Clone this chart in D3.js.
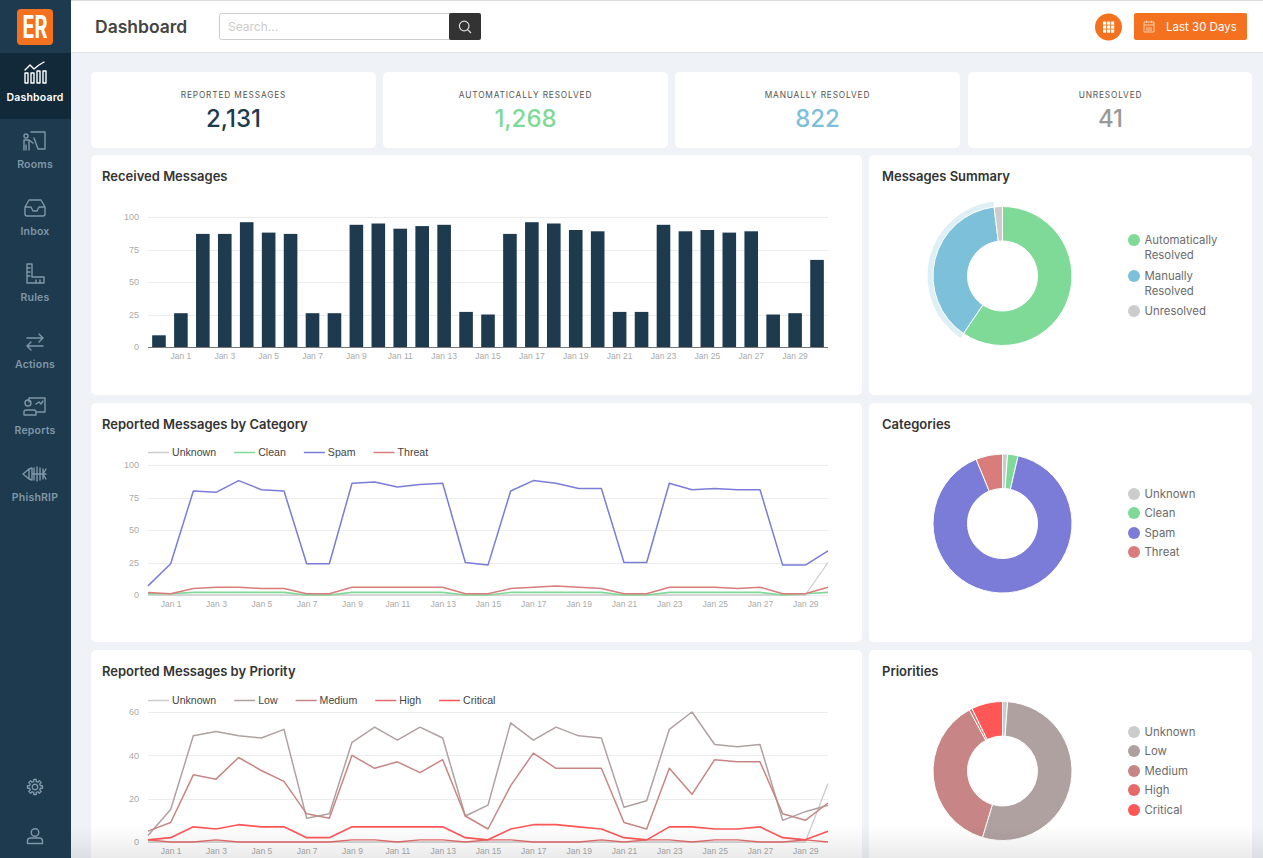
<!DOCTYPE html>
<html>
<head>
<meta charset="utf-8">
<title>Dashboard</title>
<script src="https://cdn.jsdelivr.net/npm/d3@7"></script>
<style>
  html, body { margin: 0; padding: 0; background: #eff2f7; overflow: hidden; }
  svg { display: block; font-family: Inter, sans-serif; }
  .axis text { font-family: "Liberation Sans", Arial, sans-serif; fill: #aaa; }
  .axis path, .axis line { display: none; }
  .grid { stroke: #ececec; stroke-width: 1; }
  .legend-text { font-family: "Liberation Sans", Arial, sans-serif; font-size: 10.6px; fill: #444; }
  .pie-legend { font-size: 11.4px; fill: #6b6b6b; }
  .card-title { font-size: 13px; font-weight: 600; fill: #333; }
  .nav-label { font-size: 10.5px; font-weight: 600; text-anchor: middle; fill: #7f97a8; letter-spacing: .2px; }
  .icon { fill: none; stroke: #7f97a8; stroke-width: 1.4; stroke-linejoin: round; stroke-linecap: round; }
</style>
</head>
<body>
<svg id="page" width="1263" height="858"></svg>
<script>
// days on the x axis (31 of them, Dec 31 to Jan 30)
var days = ["Dec 31","Jan 1","Jan 2","Jan 3","Jan 4","Jan 5","Jan 6","Jan 7","Jan 8","Jan 9","Jan 10","Jan 11","Jan 12","Jan 13","Jan 14","Jan 15","Jan 16","Jan 17","Jan 18","Jan 19","Jan 20","Jan 21","Jan 22","Jan 23","Jan 24","Jan 25","Jan 26","Jan 27","Jan 28","Jan 29","Jan 30"];
var dayTicks = ["Jan 1","Jan 3","Jan 5","Jan 7","Jan 9","Jan 11","Jan 13","Jan 15","Jan 17","Jan 19","Jan 21","Jan 23","Jan 25","Jan 27","Jan 29"];

var received = [9,26,87,87,96,88,87,26,26,94,95,91,93,94,27,25,87,96,95,90,89,27,27,94,89,90,88,89,25,26,67];

var catUnknown = [0,0,0,0,0,0,0,0,0,0,0,0,0,0,0,0,0,0,0,0,0,0,0,0,0,0,0,0,0,0,25];
var catClean = [1,1,2,2,2,2,2,0,0,2,2,2,2,2,0,0,2,2,2,2,2,0,0,2,2,2,2,2,0,1,2];
var catSpam = [7,24,80,79,88,81,80,24,24,86,87,83,85,86,25,23,80,88,86,82,82,25,25,86,81,82,81,81,23,23,34];
var catThreat = [2,1,5,6,6,5,5,1,1,6,6,6,6,6,1,1,5,6,7,6,5,1,1,6,6,6,5,6,1,1,6];

var priUnknown = [0,0,0,0,0,0,0,0,0,0,0,0,0,0,0,0,0,0,0,0,0,0,0,0,0,0,0,0,0,0,27];
var priLow = [3,15,49,51,49,48,52,11,13,46,53,47,53,48,12,17,55,47,53,49,48,16,19,52,60,45,44,45,10,14,17];
var priMedium = [5,9,31,29,39,33,28,13,11,40,34,37,32,38,12,6,26,41,34,34,34,9,6,34,22,38,37,37,13,10,18];
var priHigh = [1,0,0,1,0,0,0,0,0,1,1,0,1,1,0,1,1,0,0,0,1,0,1,1,0,1,1,0,0,1,0];
var priCritical = [1,2,7,6,8,7,7,2,2,7,7,7,7,7,2,1,6,8,8,7,6,2,1,7,7,6,6,7,2,1,5];

var kpiLabels = ["REPORTED MESSAGES","AUTOMATICALLY RESOLVED","MANUALLY RESOLVED","UNRESOLVED"];
var kpiValues = [2131,1268,822,41];

var summaryLabels = ["Automatically Resolved","Manually Resolved","Unresolved"];
var summaryValues = [1268,822,41];
var categoryLabels = ["Unknown","Clean","Spam","Threat"];
var categoryValues = [25,52,1922,132];
var priorityLabels = ["Unknown","Low","Medium","High","Critical"];
var priorityValues = [25,1140,797,15,154];

var navLabels = ["Dashboard","Rooms","Inbox","Rules","Actions","Reports","PhishRIP"];

var GREY = "#cccccc", GREEN = "#7fd997", BLUE = "#7cc0d9", NAVY = "#1e3a4e", ORANGE = "#f4711f";
var catColors = [GREY, GREEN, "#7b7bd8", "#d97c7c"];
var priColors = [GREY, "#b0a1a1", "#c78585", "#e56b6b", "#ff5656"];

var svg = d3.select("#page");
var fmt = d3.format(",");

// ---- page frame ----
svg.append("rect").attr("x", 71).attr("y", 0).attr("width", 1192).attr("height", 52).attr("fill", "#fff");
svg.append("rect").attr("x", 71).attr("y", 52).attr("width", 1192).attr("height", 1).attr("fill", "#dfe3e9");
svg.append("rect").attr("x", 0).attr("y", 0).attr("width", 1263).attr("height", 1).attr("fill", "#dcdcdc");

function card(x, y, w, h) {
  svg.append("rect").attr("x", x).attr("y", y).attr("width", w).attr("height", h).attr("rx", 5).attr("fill", "#fff");
}
function title(text, x, y) {
  svg.append("text").attr("class", "card-title").attr("x", x).attr("y", y).attr("dy", "0.35em").text(text);
}

// ---- kpi row ----
var kpiX = [91, 383, 675, 968];
var kpiColors = [NAVY, GREEN, BLUE, "#999999"];
kpiLabels.forEach(function(label, i) {
  card(kpiX[i], 72, i == 3 ? 284 : 285, 76);
  svg.append("text").attr("x", kpiX[i] + 142.5).attr("y", 95).attr("dy", "0.35em")
    .attr("text-anchor", "middle").attr("font-size", 8.3).attr("letter-spacing", 0.85).attr("fill", "#555").text(label);
  svg.append("text").attr("x", kpiX[i] + 142.5).attr("y", 119).attr("dy", "0.35em")
    .attr("text-anchor", "middle").attr("font-size", 24).attr("font-weight", 500).attr("fill", kpiColors[i]).text(fmt(kpiValues[i]));
});

card(91, 155, 771, 240);
card(869, 155, 383, 240);
card(91, 403, 771, 239);
card(869, 403, 383, 239);
card(91, 650, 771, 230);
card(869, 650, 383, 230);
title("Received Messages", 102, 176);
title("Messages Summary", 882, 176);
title("Reported Messages by Category", 102, 424);
title("Categories", 882, 424);
title("Reported Messages by Priority", 102, 671);
title("Priorities", 882, 671);

// ---- charts ----
var left = 148, right = 828;

function yAxis(g, y, ticks) {
  g.selectAll("line.grid").data(ticks).enter().append("line").attr("class", "grid")
    .attr("x1", left).attr("x2", right)
    .attr("y1", function(d) { return Math.round(y(d)) + 0.5; })
    .attr("y2", function(d) { return Math.round(y(d)) + 0.5; });
  g.append("g").attr("class", "axis")
    .attr("transform", "translate(" + left + ",0)")
    .call(d3.axisLeft(y).tickValues(ticks).tickSize(0).tickPadding(9))
    .selectAll("text").attr("font-size", 9);
}
function xAxis(g, x, bottom) {
  g.append("g").attr("class", "axis")
    .attr("transform", "translate(0," + bottom + ")")
    .call(d3.axisBottom(x).tickValues(dayTicks).tickSize(0).tickPadding(6))
    .selectAll("text").attr("font-size", 8.5);
}

// bars
var barG = svg.append("g");
var barY = d3.scaleLinear().domain([0, 100]).range([347, 217]);
var barX = d3.scaleBand().domain(days).range([left, right]).paddingInner(0.38).paddingOuter(0.19);
yAxis(barG, barY, [0, 25, 50, 75, 100]);
barG.selectAll("rect").data(received).enter().append("rect")
  .attr("x", function(d, i) { return barX(days[i]); })
  .attr("y", function(d) { return barY(d); })
  .attr("width", barX.bandwidth())
  .attr("height", function(d) { return barY(0) - barY(d); })
  .attr("fill", NAVY);
barG.append("line").attr("x1", left).attr("x2", right).attr("y1", 347.5).attr("y2", 347.5).attr("stroke", "#777");
xAxis(barG, barX, 347);

function lineChart(series, labels, colors, widths, top, bottom, yMax, ticks, legendY) {
  var g = svg.append("g");
  var x = d3.scalePoint().domain(days).range([left, right]);
  var y = d3.scaleLinear().domain([0, yMax]).range([bottom, top]);
  yAxis(g, y, ticks);
  var line = d3.line()
    .x(function(d, i) { return x(days[i]); })
    .y(function(d) { return y(d); });
  g.selectAll("path.series").data(series).enter().append("path")
    .attr("class", "series")
    .attr("fill", "none")
    .attr("stroke-linejoin", "round")
    .attr("stroke", function(d, i) { return colors[i]; })
    .attr("stroke-width", function(d, i) { return widths[i]; })
    .attr("d", line);
  xAxis(g, x, bottom);

  // legend entries flow one after the other
  var pos = left;
  labels.forEach(function(label, i) {
    g.append("line").attr("x1", pos).attr("x2", pos + 21).attr("y1", legendY + 0.5).attr("y2", legendY + 0.5)
      .attr("stroke", colors[i]).attr("stroke-width", 1.5);
    var t = g.append("text").attr("class", "legend-text").attr("x", pos + 24).attr("y", legendY).attr("dy", "0.35em").text(label);
    pos += 24 + t.node().getComputedTextLength() + 18;
  });
}

lineChart([catUnknown, catClean, catSpam, catThreat], categoryLabels, catColors, [1.3, 1.6, 1.5, 1.5],
  465, 595, 100, [0, 25, 50, 75, 100], 452);
lineChart([priUnknown, priLow, priMedium, priHigh, priCritical], priorityLabels, priColors, [1.3, 1.5, 1.5, 1.3, 1.6],
  712, 842, 60, [0, 20, 40, 60], 700);

// ---- donuts ----
function donut(values, colors, cy, halo) {
  var g = svg.append("g").attr("transform", "translate(1002.5," + cy + ")");
  var slices = d3.pie().sort(null)(values);
  var arc = d3.arc().innerRadius(35).outerRadius(69.5);
  if (halo !== undefined) {
    g.append("path")
      .attr("d", d3.arc().innerRadius(69.5).outerRadius(75)(slices[halo]))
      .attr("fill", colors[halo]).attr("fill-opacity", 0.25);
  }
  g.selectAll("path.slice").data(slices).enter().append("path")
    .attr("class", "slice")
    .attr("d", arc)
    .attr("fill", function(d, i) { return colors[i]; })
    .attr("stroke", "#fff").attr("stroke-width", 1);
}
function pieLegend(labels, colors, ys) {
  labels.forEach(function(label, i) {
    svg.append("circle").attr("cx", 1134).attr("cy", ys[i]).attr("r", 6).attr("fill", colors[i]);
    // labels wrap on the space when they are long
    label.split(/ (?=Resolved)/).forEach(function(part, k) {
      svg.append("text").attr("class", "pie-legend").attr("x", 1144.5).attr("y", ys[i] + k * 15.5).attr("dy", "0.35em").text(part);
    });
  });
}
donut(summaryValues, [GREEN, BLUE, GREY], 276, 1);
pieLegend(summaryLabels, [GREEN, BLUE, GREY], [240, 276, 311]);
donut(categoryValues, catColors, 523.5);
pieLegend(categoryLabels, catColors, [494, 513, 533, 552]);
donut(priorityValues, priColors, 771);
pieLegend(priorityLabels, priColors, [732, 751, 771, 790, 810]);

// fade at the bottom of the screenshot
var defs = svg.append("defs");
var fade = defs.append("linearGradient").attr("id", "fade").attr("x1", 0).attr("y1", 0).attr("x2", 0).attr("y2", 1);
fade.append("stop").attr("offset", 0).attr("stop-color", "#000").attr("stop-opacity", 0);
fade.append("stop").attr("offset", 1).attr("stop-color", "#000").attr("stop-opacity", 0.08);
svg.append("rect").attr("x", 71).attr("y", 826).attr("width", 1192).attr("height", 32).attr("fill", "url(#fade)");

// ---- sidebar ----
svg.append("rect").attr("width", 71).attr("height", 858).attr("fill", NAVY);
svg.append("rect").attr("y", 53).attr("width", 71).attr("height", 66).attr("fill", "#12293a");
svg.append("rect").attr("x", 17).attr("y", 9).attr("width", 36).attr("height", 36).attr("rx", 4).attr("fill", ORANGE);
svg.append("text").attr("x", 22.5).attr("y", 38).attr("font-size", 31).attr("font-weight", 700)
  .attr("textLength", 25).attr("lengthAdjust", "spacingAndGlyphs").attr("fill", "#fff").text("ER");

var navY = [97, 164, 231, 297, 364, 430, 497];
var navIcons = [
  "M-10 -4L-5 -9L-1 -5L4 -9L9 -12M-10 -1H-7V9H-10ZM-4 -1H-1V9H-4ZM2 -3H5V9H2ZM8 -3H11V9H8Z",
  "M-4 -9H10V8H3L-1 -3M-9 -3A2 2 0 1 0 -9 -7A2 2 0 1 0 -9 -3M-11 9V-1H-6L-2 2M-9 9V4M-6 9V0",
  "M-10 -1L-6 -8H6L10 -1V6A2 2 0 0 1 8 8H-8A2 2 0 0 1 -10 6ZM-10 -1H-4L-2 3H2L4 -1H10",
  "M-8 -10H-3V3H9V9H-8ZM-8 -6H-5M-8 -2H-5M-8 2H-5M1 9V6M5 9V6",
  "M-8 -3H8M4 -7L8 -3L4 1M8 5H-8M-4 1L-8 5L-4 9",
  "M-6 -5V-9H10V5H2M-7 -1A3 3 0 1 0 -7 -7A3 3 0 1 0 -7 -1M-11 8V5A2 2 0 0 1 -9 3H-1A2 2 0 0 1 1 5V8ZM1 -3L4 -5L6 -3L8 -6",
  "M-12 0L-6 -5V5ZM-6 -5L-3 -6V6L-6 5M-1 -6V6M2 -7V7M5 -6V6M8 -5V5M-3 0H11M11 -5L8 0L11 5"
];
navLabels.forEach(function(label, i) {
  var active = i == 0;
  svg.append("text").attr("class", "nav-label").attr("x", 35).attr("y", navY[i]).attr("dy", "0.35em")
    .style("fill", active ? "#fff" : null).text(label);
  svg.append("path").attr("class", "icon").attr("d", navIcons[i])
    .attr("transform", "translate(35," + (navY[i] - 23) + ")")
    .style("stroke", active ? "#fff" : null);
});
// gear and user at the foot of the sidebar
var gear = svg.append("g").attr("class", "icon").attr("transform", "translate(35,787)");
gear.append("circle").attr("r", 2.8);
gear.append("path").attr("d", d3.range(8).map(function(i) {
  var a0 = (i - 0.22) * Math.PI / 4, a1 = (i + 0.22) * Math.PI / 4, a2 = (i + 0.3) * Math.PI / 4, a3 = (i + 0.7) * Math.PI / 4;
  return "L" + 7.6 * Math.sin(a0) + " " + -7.6 * Math.cos(a0) + "L" + 7.6 * Math.sin(a1) + " " + -7.6 * Math.cos(a1) +
    "L" + 5.6 * Math.sin(a2) + " " + -5.6 * Math.cos(a2) + "L" + 5.6 * Math.sin(a3) + " " + -5.6 * Math.cos(a3);
}).join("").replace("L", "M") + "Z");
var user = svg.append("g").attr("class", "icon").attr("transform", "translate(35,836)");
user.append("circle").attr("cy", -3.5).attr("r", 3.8);
user.append("path").attr("d", "M-7.5 7.5V5A3 3 0 0 1 -4.500 2H4.500A3 3 0 0 1 7.5 5V7.5Z");

// ---- header ----
svg.append("text").attr("x", 95).attr("y", 27).attr("dy", "0.36em").attr("font-size", 17.5).attr("font-weight", 600).attr("fill", "#444").text("Dashboard");
svg.append("rect").attr("x", 219.5).attr("y", 13.5).attr("width", 240).attr("height", 26).attr("rx", 2).attr("fill", "#fff").attr("stroke", "#ccc");
svg.append("text").attr("x", 228).attr("y", 27).attr("dy", "0.35em").attr("font-size", 12).attr("fill", "#ccc").text("Search...");
svg.append("rect").attr("x", 449).attr("y", 13).attr("width", 32).attr("height", 27).attr("rx", 2).attr("fill", "#333");
svg.append("path").attr("d", "M471 32L467.5 28.5M469 25A4.8 4.8 0 1 1 459.4 25A4.8 4.8 0 1 1 469 25")
  .attr("transform", "translate(0,1)").attr("fill", "none").attr("stroke", "#ddd").attr("stroke-width", 1.2);

svg.append("circle").attr("cx", 1108.5).attr("cy", 27).attr("r", 13.5).attr("fill", ORANGE);
d3.range(3).forEach(function(r) {
  d3.range(3).forEach(function(c) {
    svg.append("rect").attr("x", 1103 + c * 4).attr("y", 21.5 + r * 4).attr("width", 3.2).attr("height", 3.2).attr("fill", "#fff");
  });
});
svg.append("rect").attr("x", 1134).attr("y", 13).attr("width", 113).attr("height", 27).attr("rx", 2).attr("fill", ORANGE);
svg.append("path").attr("d", "M1144 22H1154V32H1144ZM1144 25H1154M1146.5 20.500V23M1151.500 20.500V23M1146 28H1152M1146 30H1152")
  .attr("fill", "none").attr("stroke", "#fbd3b5").attr("stroke-width", 1);
svg.append("text").attr("x", 1166).attr("y", 27).attr("dy", "0.35em").attr("font-size", 11.5).attr("fill", "#fff").text("Last 30 Days");
</script>
</body>
</html>
